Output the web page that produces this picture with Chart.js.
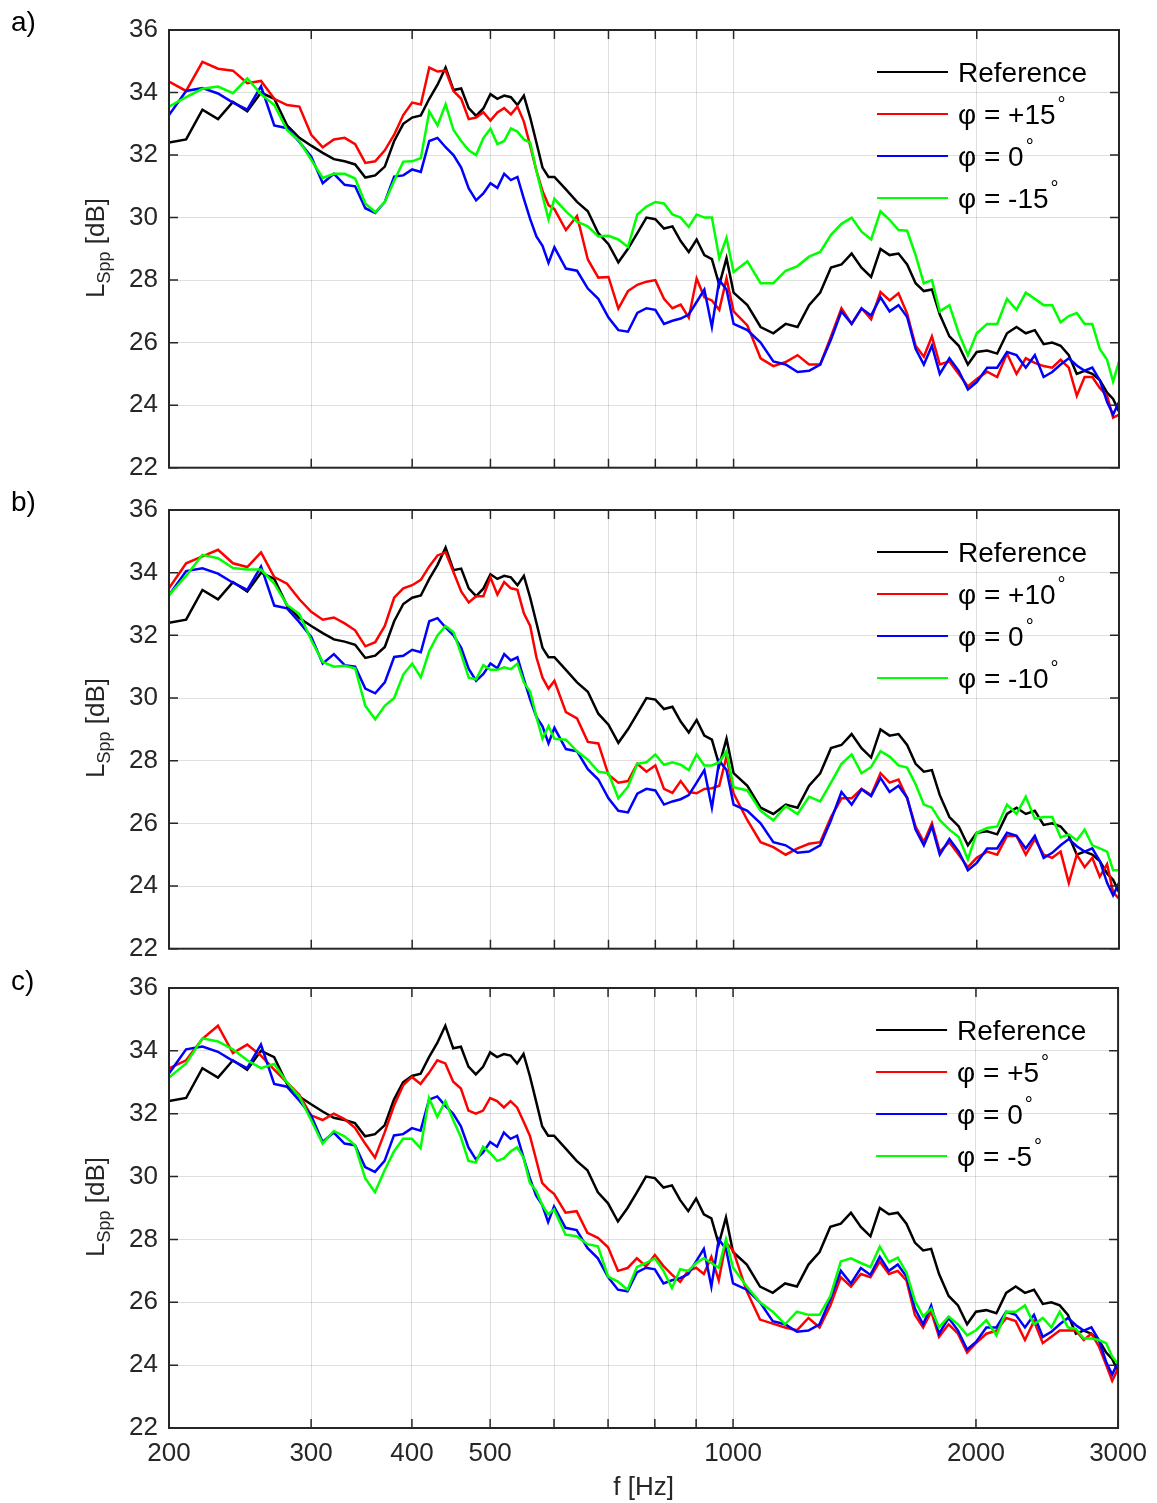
<!DOCTYPE html>
<html>
<head>
<meta charset="utf-8">
<title>L_Spp vs f</title>
<script src="https://cdn.jsdelivr.net/npm/chart.js@4.4.1/dist/chart.umd.min.js"></script>
<style>
  body { margin:0; background:#fff; }
  #page { position:relative; width:1157px; height:1503px; overflow:hidden; font-family:"Liberation Sans", Arial, sans-serif; color:#262626; }
  canvas { position:absolute; left:0; }
  .tag { position:absolute; left:11px; font-size:28px; line-height:28px; color:#000; }
  .ylab { position:absolute; left:-5px; width:200px; height:30px; line-height:30px; text-align:center; font-size:26px; transform:rotate(-90deg); white-space:nowrap; }
  .ylab sub { font-size:18px; vertical-align:-6px; line-height:0; }
</style>
</head>
<body>
<div id="page">
  <canvas id="panelA" width="1157" height="480" style="top:0px;width:1157px;height:480px"></canvas>
  <canvas id="panelB" width="1157" height="481" style="top:480px;width:1157px;height:481px"></canvas>
  <canvas id="panelC" width="1157" height="545" style="top:958px;width:1157px;height:545px"></canvas>
  <div class="tag" style="top:8px">a)</div>
  <div class="tag" style="top:488px">b)</div>
  <div class="tag" style="top:967px">c)</div>
  <div class="ylab" style="top:233px">L<sub>Spp</sub> [dB]</div>
  <div class="ylab" style="top:713px">L<sub>Spp</sub> [dB]</div>
  <div class="ylab" style="top:1192px">L<sub>Spp</sub> [dB]</div>
</div>
<script>
// frequency axis (Hz) shared by every curve
const freq = [200,210,220,230,240,250,260,270,280,290,300,
  310,320,330,340,350,360,370,380,390,400,
  410,420,430,440,450,460,470,480,490,500,
  510,520,530,540,550,560,570,580,590,600,
  620,640,660,680,700,720,740,760,780,800,
  820,840,860,880,900,920,940,960,980,1000,
  1040,1080,1120,1160,1200,1240,1280,1320,1360,1400,
  1440,1480,1520,1560,1600,1640,1680,1720,1760,1800,
  1850,1900,1950,2000,
  2060,2120,2180,2240,2300,2360,2420,2480,2540,2600,2660,2720,2780,2840,2900,
  2950,3000];

// reference and phi = 0 are the same in all three panels
const lRef = [32.4,32.5,33.45,33.15,33.7,33.4,34.0,33.8,32.95,32.55,32.3,
  32.07,31.87,31.8,31.7,31.28,31.35,31.63,32.45,33.0,33.2,
  33.27,33.8,34.25,34.8,34.08,34.13,33.5,33.25,33.49,33.95,
  33.8,33.9,33.85,33.6,33.9,33.2,32.4,31.6,31.3,31.3,
  30.9,30.5,30.2,29.5,29.15,28.57,29.0,29.5,30.0,29.95,
  29.65,29.72,29.25,28.9,29.3,28.8,28.67,27.85,28.7,27.6,
  27.2,26.5,26.3,26.6,26.5,27.2,27.6,28.4,28.5,28.85,
  28.4,28.1,29.0,28.8,28.85,28.5,27.9,27.65,27.7,26.9,
  26.2,25.9,25.3,25.7,
  25.75,25.65,26.3,26.5,26.3,26.4,25.95,26.0,25.9,25.6,25.0,25.1,25.0,24.8,24.4,
  24.2,23.8];
const lZero = [33.28,34.05,34.14,33.97,33.68,33.45,34.2,32.95,32.86,32.42,31.95,
  31.1,31.4,31.05,31.0,30.3,30.15,30.5,31.31,31.35,31.54,
  31.46,32.45,32.55,32.25,32.0,31.6,30.93,30.55,30.77,31.1,
  30.95,31.4,31.2,31.3,30.6,29.95,29.4,29.1,28.55,29.05,
  28.37,28.3,27.73,27.4,26.8,26.4,26.35,26.95,27.1,27.05,
  26.6,26.7,26.77,26.9,27.3,27.7,26.5,28.0,27.7,26.6,
  26.4,26.0,25.4,25.3,25.06,25.1,25.3,26.1,27.0,26.6,
  27.09,26.87,27.45,27.0,27.2,26.82,25.8,25.3,25.9,25.0,
  25.5,25.1,24.5,24.74,
  25.2,25.2,25.7,25.6,25.2,25.6,24.9,25.06,25.3,25.5,25.27,25.1,25.2,24.8,24.1,
  23.7,24.1];

// panel a
const lPlus15 = [34.35,34.05,34.98,34.76,34.7,34.3,34.37,33.8,33.6,33.55,32.65,
  32.25,32.5,32.55,32.35,31.75,31.8,32.15,32.65,33.28,33.68,
  33.62,34.8,34.67,34.7,34.05,33.8,33.15,33.2,33.37,33.1,
  33.36,33.5,33.3,33.55,33.07,32.3,31.5,30.85,30.4,30.27,
  29.6,30.05,28.66,28.08,28.1,27.09,27.65,27.85,27.95,28.0,
  27.4,27.1,27.22,26.8,28.05,27.45,27.35,27.05,28.05,27.0,
  26.55,25.5,25.25,25.38,25.6,25.3,25.3,26.2,27.1,26.6,
  27.1,26.75,27.62,27.35,27.58,26.93,25.9,25.55,26.2,25.3,
  25.4,25.0,24.6,24.84,
  25.07,24.9,25.65,25.0,25.5,25.35,25.25,25.2,25.45,25.2,24.3,24.9,24.9,24.55,24.3,
  23.6,23.7];
const lMinus15 = [33.55,33.85,34.12,34.19,33.98,34.45,33.95,33.6,32.8,32.45,31.85,
  31.27,31.4,31.4,31.25,30.45,30.17,30.5,31.18,31.79,31.8,
  31.9,33.39,32.95,33.62,32.8,32.45,32.15,32.0,32.54,32.84,
  32.35,32.45,32.85,32.75,32.5,32.4,31.5,30.7,29.95,30.6,
  30.2,29.87,29.72,29.4,29.42,29.3,29.06,30.1,30.35,30.5,
  30.45,30.1,30.0,29.7,30.1,30.0,30.0,28.7,29.35,28.26,
  28.6,27.9,27.9,28.3,28.45,28.75,28.9,29.45,29.8,30.0,
  29.55,29.3,30.2,29.93,29.6,29.58,28.8,27.9,28.0,27.0,
  27.2,26.3,25.6,26.3,
  26.6,26.6,27.4,27.05,27.6,27.4,27.2,27.2,26.65,26.85,26.95,26.6,26.6,25.8,25.45,
  24.75,25.4];

// panel b
const lPlus10 = [33.5,34.3,34.52,34.73,34.3,34.18,34.65,33.86,33.65,33.15,32.75,
  32.5,32.57,32.38,32.16,31.65,31.78,32.3,33.2,33.5,33.6,
  33.77,34.2,34.55,34.65,34.02,33.4,33.05,33.25,33.25,33.85,
  33.3,33.7,33.5,33.45,32.7,32.3,31.3,30.65,30.3,30.55,
  29.55,29.35,28.6,28.55,27.55,27.3,27.35,27.9,27.65,27.85,
  27.1,26.97,27.35,27.0,26.96,27.1,27.12,27.2,28.14,26.95,
  26.1,25.4,25.24,25.0,25.2,25.35,25.4,26.2,26.8,26.8,
  27.1,26.9,27.6,27.3,27.4,26.8,25.9,25.4,26.0,25.1,
  25.4,25.0,24.6,24.9,
  25.1,25.0,25.6,25.6,25.0,25.5,25.0,24.9,25.1,24.1,25.0,24.6,24.9,24.3,24.7,
  23.8,23.6];
const lMinus10 = [33.28,33.9,34.57,34.46,34.15,34.1,34.1,33.65,32.97,32.68,31.85,
  31.15,31.0,31.03,30.95,29.75,29.32,29.75,30.0,30.75,31.1,
  30.66,31.5,32.0,32.3,32.1,31.4,30.65,30.6,31.05,30.9,
  30.9,30.98,30.92,31.1,30.5,30.2,29.4,28.7,29.1,28.7,
  28.67,28.3,28.03,27.65,27.6,26.8,27.17,27.9,27.95,28.2,
  27.87,27.95,27.87,27.7,28.2,27.85,27.85,27.95,28.3,27.15,
  27.05,26.4,26.1,26.55,26.3,26.85,26.7,27.3,27.9,28.2,
  27.6,27.8,28.3,28.13,27.85,27.78,27.25,26.6,26.5,26.1,
  25.8,25.56,24.85,25.7,
  25.85,25.9,26.6,26.3,26.85,26.15,26.2,26.2,25.55,25.65,25.46,25.8,25.3,25.2,25.1,
  24.5,24.5];

// panel c
const lPlus5 = [33.44,33.7,34.38,34.8,33.93,34.2,33.85,33.4,33.0,32.6,31.95,
  31.8,32.0,31.83,31.55,31.05,30.6,31.4,32.25,32.9,33.17,
  32.95,33.3,33.7,33.6,33.02,32.8,32.1,32.0,32.1,32.5,
  32.4,32.2,32.4,32.2,31.75,31.3,30.55,29.8,29.6,29.45,
  28.85,28.9,28.21,28.05,27.75,27.0,27.09,27.4,27.14,27.5,
  27.15,26.88,26.65,27.0,27.1,26.9,27.45,26.7,27.9,27.65,
  26.35,25.45,25.32,25.2,25.11,25.5,25.2,25.9,26.8,26.5,
  26.9,26.8,27.3,26.9,27.0,26.7,25.6,25.2,25.7,24.9,
  25.3,25.0,24.4,24.7,
  25.0,25.1,25.5,25.4,24.8,25.4,24.7,24.9,25.1,25.1,25.1,24.8,25.0,24.6,24.0,
  23.5,23.9];
const lMinus5 = [33.15,33.6,34.4,34.3,34.05,33.7,33.45,33.58,33.0,32.55,31.8,
  31.05,31.45,31.28,31.0,29.95,29.5,30.2,30.8,31.2,31.2,
  30.9,32.5,31.9,32.4,31.8,31.25,30.5,30.45,30.95,30.75,
  30.5,30.58,30.8,30.93,30.6,29.8,29.55,29.1,28.8,28.95,
  28.15,28.1,27.85,27.78,26.82,26.66,26.4,27.12,27.25,27.4,
  27.0,26.45,27.05,27.0,27.25,27.4,27.25,27.1,28.0,27.1,
  26.5,26.0,25.7,25.3,25.7,25.6,25.6,26.2,27.3,27.4,
  27.25,27.12,27.77,27.28,27.42,26.95,26.05,25.55,25.8,25.2,
  25.55,25.3,24.95,25.11,
  25.43,24.95,25.7,25.7,25.9,25.3,25.5,25.2,25.7,25.2,25.15,24.85,24.85,24.8,24.7,
  24.27,24.04];

const yTicks = [22,24,26,28,30,32,34,36];
const xGridTicks = [200,300,400,500,600,700,800,900,1000,2000,3000];
const xLabelTicks = [200,300,400,500,1000,2000,3000];

const FONT = '"Liberation Sans", Arial, sans-serif';
const INK = '#262626';
const GRID = 'rgba(38,38,38,0.15)';
const lineColors = ['#000000', '#ff0000', '#0000ff', '#00ff00'];

// axes box with inward ticks, matlab style
const boxPlugin = {
  id: 'box',
  afterDraw(chart) {
    const ctx = chart.ctx, a = chart.chartArea, sx = chart.scales.x, sy = chart.scales.y;
    ctx.save();
    ctx.strokeStyle = INK;
    ctx.lineWidth = 1.5;
    ctx.beginPath();
    yTicks.forEach(v => {
      const y = sy.getPixelForValue(v);
      ctx.moveTo(a.left, y); ctx.lineTo(a.left + 9, y);
      ctx.moveTo(a.right, y); ctx.lineTo(a.right - 9, y);
    });
    xGridTicks.forEach(v => {
      const x = sx.getPixelForValue(v);
      ctx.moveTo(x, a.top); ctx.lineTo(x, a.top + 9);
      ctx.moveTo(x, a.bottom); ctx.lineTo(x, a.bottom - 9);
    });
    ctx.stroke();
    ctx.lineWidth = 2;
    ctx.strokeRect(a.left, a.top, a.right - a.left, a.bottom - a.top);
    ctx.restore();
  }
};

// legend in the upper right, degree sign raised
const phiLegend = {
  id: 'phiLegend',
  afterDraw(chart) {
    const ctx = chart.ctx, a = chart.chartArea;
    ctx.save();
    chart.data.datasets.forEach((ds, i) => {
      const y = a.top + 42 * (i + 1);
      ctx.strokeStyle = ds.borderColor;
      ctx.lineWidth = 2;
      ctx.beginPath();
      ctx.moveTo(a.right - 242, y);
      ctx.lineTo(a.right - 171, y);
      ctx.stroke();
      let txt = ds.label;
      const deg = txt.endsWith('°');
      if (deg) txt = txt.slice(0, -1);
      ctx.fillStyle = '#000';
      ctx.textBaseline = 'alphabetic';
      ctx.font = '28px ' + FONT;
      ctx.fillText(txt, a.right - 161, y + 10);
      if (deg) {
        const w = ctx.measureText(txt).width;
        ctx.font = '20px ' + FONT;
        ctx.fillText('°', a.right - 161 + w + 2, y - 3);
      }
    });
    ctx.restore();
  }
};

function makePanel(id, sets, showX, bottomH) {
  const datasets = sets.map((s, i) => ({
    label: s.label,
    data: s.values.map((v, k) => ({x: freq[k], y: v})),
    borderColor: lineColors[i],
    backgroundColor: lineColors[i],
    borderWidth: 2.5,
    pointRadius: 0,
    fill: false,
    tension: 0,
    order: 3 - i
  }));
  return new Chart(document.getElementById(id), {
    type: 'line',
    data: {datasets: datasets},
    options: {
      responsive: false,
      animation: false,
      devicePixelRatio: 1,
      layout: {padding: {top: 30, right: 38, left: 0, bottom: 0}},
      plugins: {legend: {display: false}, tooltip: {enabled: false}},
      scales: {
        x: {
          type: 'logarithmic', min: 200, max: 3000,
          afterBuildTicks: s => { s.ticks = xGridTicks.map(v => ({value: v})); },
          afterFit: s => { s.height = bottomH; },
          grid: {color: GRID, lineWidth: 1, drawTicks: false},
          border: {display: false},
          ticks: {
            display: showX, padding: 10, color: INK, autoSkip: false, maxRotation: 0,
            font: {family: FONT, size: 26},
            callback: v => xLabelTicks.includes(v) ? String(v) : ''
          },
          title: {display: showX, text: 'f [Hz]', color: INK, font: {family: FONT, size: 26}, padding: {top: 0, bottom: 0}}
        },
        y: {
          min: 22, max: 36,
          afterBuildTicks: s => { s.ticks = yTicks.map(v => ({value: v})); },
          afterFit: s => { s.width = 169; },
          grid: {color: GRID, lineWidth: 1, drawTicks: false},
          border: {display: false},
          // small lineHeight keeps the tick labels from pushing the plot area
          ticks: {padding: 11, color: INK, font: {family: FONT, size: 26, lineHeight: 0.1}}
        }
      }
    },
    plugins: [boxPlugin, phiLegend]
  });
}

makePanel('panelA', [
  {label: 'Reference', values: lRef},
  {label: 'φ = +15°', values: lPlus15},
  {label: 'φ = 0°', values: lZero},
  {label: 'φ = -15°', values: lMinus15}
], false, 11.7);

makePanel('panelB', [
  {label: 'Reference', values: lRef},
  {label: 'φ = +10°', values: lPlus10},
  {label: 'φ = 0°', values: lZero},
  {label: 'φ = -10°', values: lMinus10}
], false, 10);

makePanel('panelC', [
  {label: 'Reference', values: lRef},
  {label: 'φ = +5°', values: lPlus5},
  {label: 'φ = 0°', values: lZero},
  {label: 'φ = -5°', values: lMinus5}
], true, 75);
</script>
</body>
</html>
